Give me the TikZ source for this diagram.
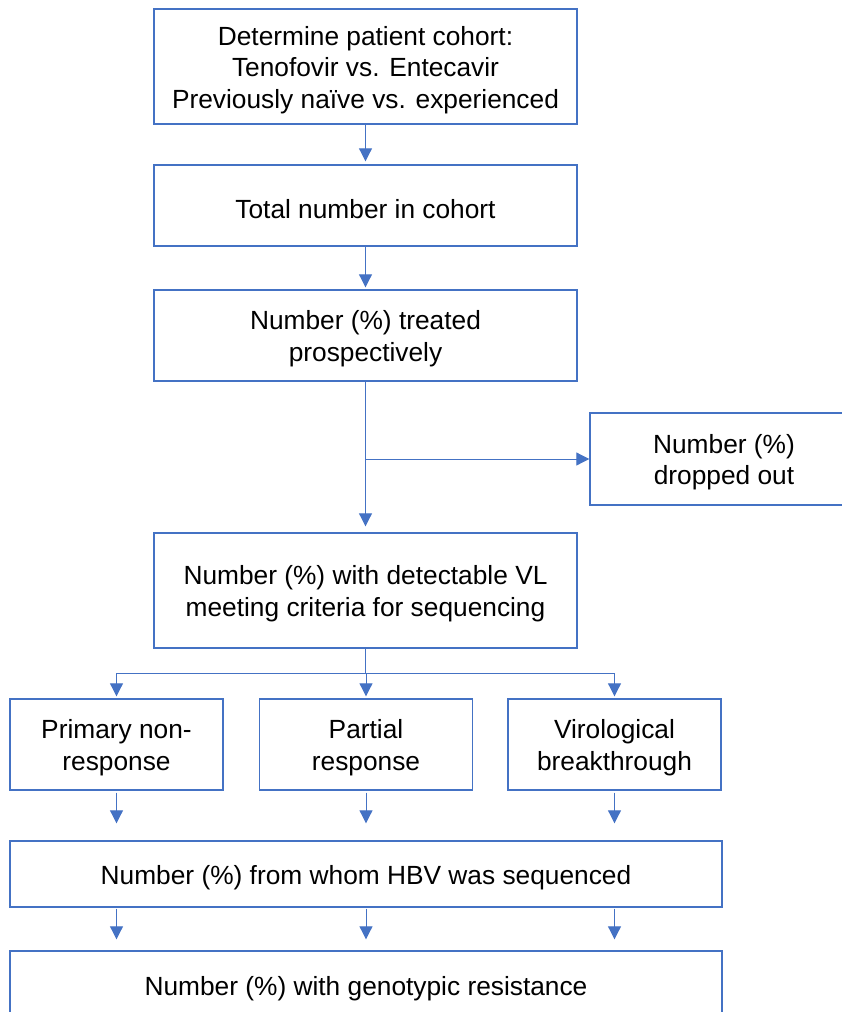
\documentclass[tikz,border=0pt]{standalone}
\usepackage{fontspec}
\setmainfont{Liberation Sans}
\usetikzlibrary{arrows.meta,calc}
\definecolor{obl}{HTML}{4472C4}
\newcommand\firstup{\rule{0pt}{25.5pt}}
\tikzset{
  fbox/.style={draw=obl, line width=1.4pt, fill=white, inner sep=0pt, align=center,
    font=\fontsize{26.3}{31.5}\selectfont, text=black},
  conn/.style={draw=obl, line width=1pt},
  arr/.style={conn, -{Triangle[width=13pt,length=13pt]}}
}
\begin{document}
\begin{tikzpicture}[x=1pt,y=-1pt]
\clip (0,0) rectangle (842,1012);
\fill[white] (0,0) rectangle (842,1012);
\node[fbox, minimum width=423pt, minimum height=115pt] (b1) at (365.5,66.5)
  {\firstup Determine patient cohort:\\Tenofovir vs. Entecavir\\Previously naïve vs. experienced};
\node[fbox, minimum width=423pt, minimum height=81pt] (b2) at (365.5,205.5)
  {\firstup Total number in cohort};
\node[fbox, minimum width=423pt, minimum height=91pt] (b3) at (365.5,335.5)
  {\firstup Number (\%) treated\\prospectively};
\node[fbox, minimum width=268pt, minimum height=92pt] (drop) at (724,459)
  {\firstup Number (\%)\\dropped out};
\node[fbox, minimum width=423pt, minimum height=115pt] (b4) at (365.5,590.5)
  {\firstup Number (\%) with detectable VL\\meeting criteria for sequencing};
\node[fbox, minimum width=213pt, minimum height=91pt] (pA) at (116.5,744.5)
  {\firstup Primary non-\\response};
\node[fbox, minimum width=213pt, minimum height=91pt] (pB) at (366,744.5)
  {\firstup Partial\\response};
\node[fbox, minimum width=213pt, minimum height=91pt] (pC) at (614.5,744.5)
  {\firstup Virological\\breakthrough};
\node[fbox, minimum width=712pt, minimum height=66pt] (s5) at (366,874)
  {\firstup Number (\%) from whom HBV was sequenced};
\node[fbox, minimum width=712pt, minimum height=68pt] (r6) at (366,985)
  {\firstup Number (\%) with genotypic resistance};

\draw[arr, shorten >=3pt] (b1.south) -- (b2.north);
\draw[arr, shorten >=2pt] (b2.south) -- (b3.north);
\draw[arr, shorten >=6pt] (b3.south) -- (b4.north);
\coordinate (br) at (b3.south |- drop.west);
\draw[arr] (br) -- (drop.west);

\coordinate (hj) at ($(b4.south)+(0,24.5)$);
\draw[conn] (b4.south) -- (hj);
\draw[arr, shorten >=2pt] (hj) -| (pA.north);
\draw[arr, shorten >=2pt] (hj) -- (hj -| pB.north) -- (pB.north);
\draw[arr, shorten >=2pt] (hj) -| (pC.north);

\foreach \n in {pA,pB,pC}{
  \draw[arr, shorten <=2pt, shorten >=17pt] (\n.south) -- (\n.south |- s5.north);
  \draw[arr, shorten <=1pt, shorten >=11pt] (s5.south -| \n.south) -- (r6.north -| \n.south);
}
\end{tikzpicture}
\end{document}
